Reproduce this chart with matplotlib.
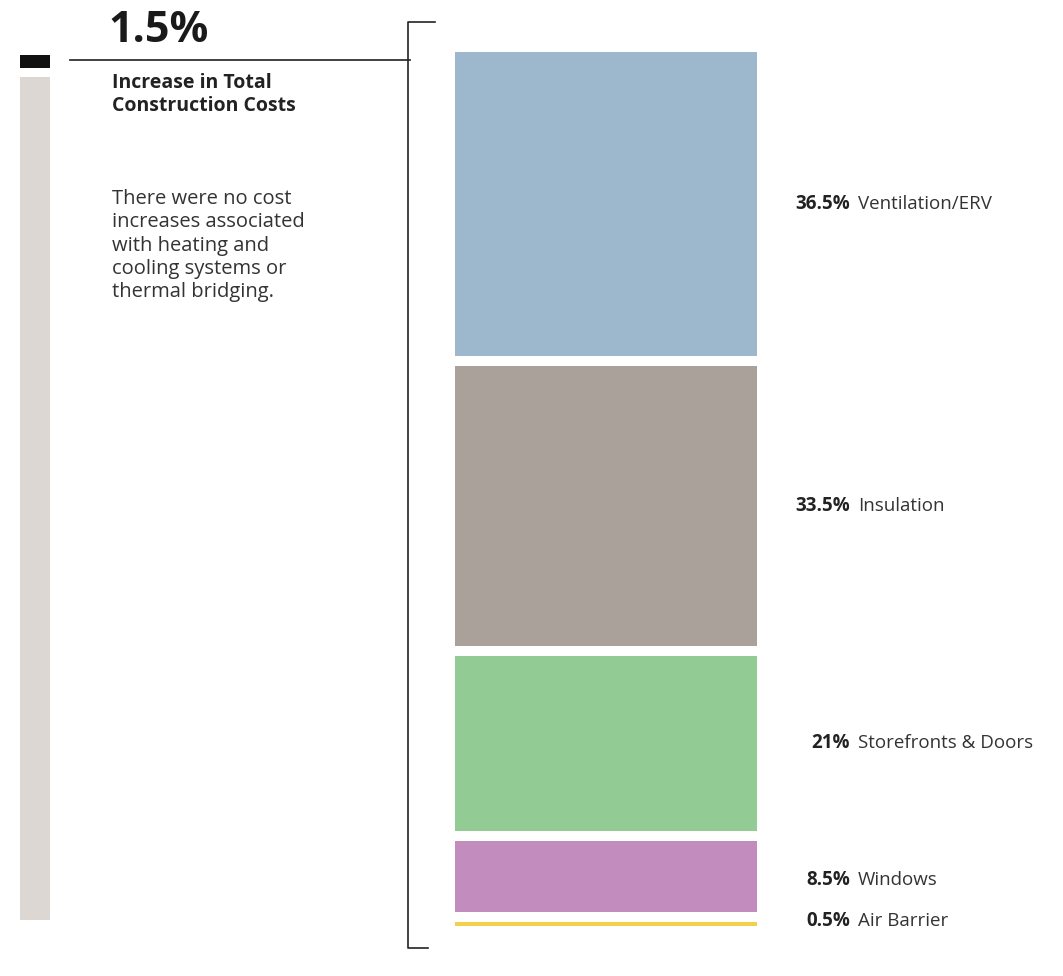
import matplotlib.pyplot as plt
import matplotlib.transforms as mtransforms

# --- data -------------------------------------------------------------
categories = ["Ventilation/ERV", "Insulation", "Storefronts & Doors", "Windows", "Air Barrier"]
shares = [36.5, 33.5, 21.0, 8.5, 0.5]
share_labels = ["36.5%", "33.5%", "21%", "8.5%", "0.5%"]
colors = ["#98b3cb", "#a69d95", "#8cc98e", "#bf86bb", "#f0d040"]

total_increase = 1.5
headline = "1.5%"
subtitle = "Increase in Total\nConstruction Costs"
note = "There were no cost\nincreases associated\nwith heating and\ncooling systems or\nthermal bridging."

W, H = 1063, 976
GAP = 1.2  # gap between stacked segments, in % units

plt.rcParams["font.family"] = ["Open Sans", "DejaVu Sans"]
fig = plt.figure(figsize=(W / 100, H / 100), dpi=100)


def px_axes(x0, y0, x1, y1):
    """Axes placed by pixel box (top-left origin)."""
    return fig.add_axes([x0 / W, 1 - y1 / H, (x1 - x0) / W, (y1 - y0) / H])


# overlay axes in pixel coordinates for rules and text
over = fig.add_axes([0, 0, 1, 1])
over.set_xlim(0, W)
over.set_ylim(H, 0)
over.axis("off")

over.plot([70, 410], [60, 60], color="#333333", lw=1.3)
over.plot([435, 408, 408, 428], [22, 22, 948, 948], color="#222222", lw=1.2)

over.text(108, 42, headline, fontsize=31, fontweight="bold", color="#1a1a1a", va="baseline")
over.text(112, 73, subtitle, fontsize=14, fontweight="bold", color="#222222",
          va="top", linespacing=1.2)
over.text(112, 189, note, fontsize=14.5, color="#333333", va="top", linespacing=1.22)

# left thermometer bar: total construction cost with increase on top
left = px_axes(20, 55, 50, 920)
left.bar(0, total_increase, bottom=0, width=1, color="#111111")
left.bar(0, 100 - total_increase - 1, bottom=total_increase + 1, width=1, color="#dcd7d3")
left.set_xlim(-0.5, 0.5)
left.set_ylim(100, 0)
left.axis("off")

# stacked breakdown bar
ax = px_axes(455, 52, 757, 926)
bottoms = []
b = 0.0
for s in shares:
    bottoms.append(b)
    b += s + GAP
ax.bar([0] * len(shares), shares, bottom=bottoms, width=1, color=colors, alpha=0.95)
ax.set_xlim(-0.5, 0.5)
ax.set_ylim(b - GAP, 0)
ax.axis("off")

trans = mtransforms.blended_transform_factory(ax.transAxes, ax.transData)
for bot, s, val, name in zip(bottoms, shares, share_labels, categories):
    y = bot + s / 2
    if s < 1:
        y = bot + s / 2 - 0.3
    elif s < 10:
        y = bot + s / 2 + 0.4
    ax.text(1.308, y, val, transform=trans, ha="right", va="center",
            fontsize=13.5, fontweight="bold", color="#222222")
    ax.text(1.335, y, name, transform=trans, ha="left", va="center",
            fontsize=13.5, color="#333333")

fig.savefig("out.png", dpi=100)
